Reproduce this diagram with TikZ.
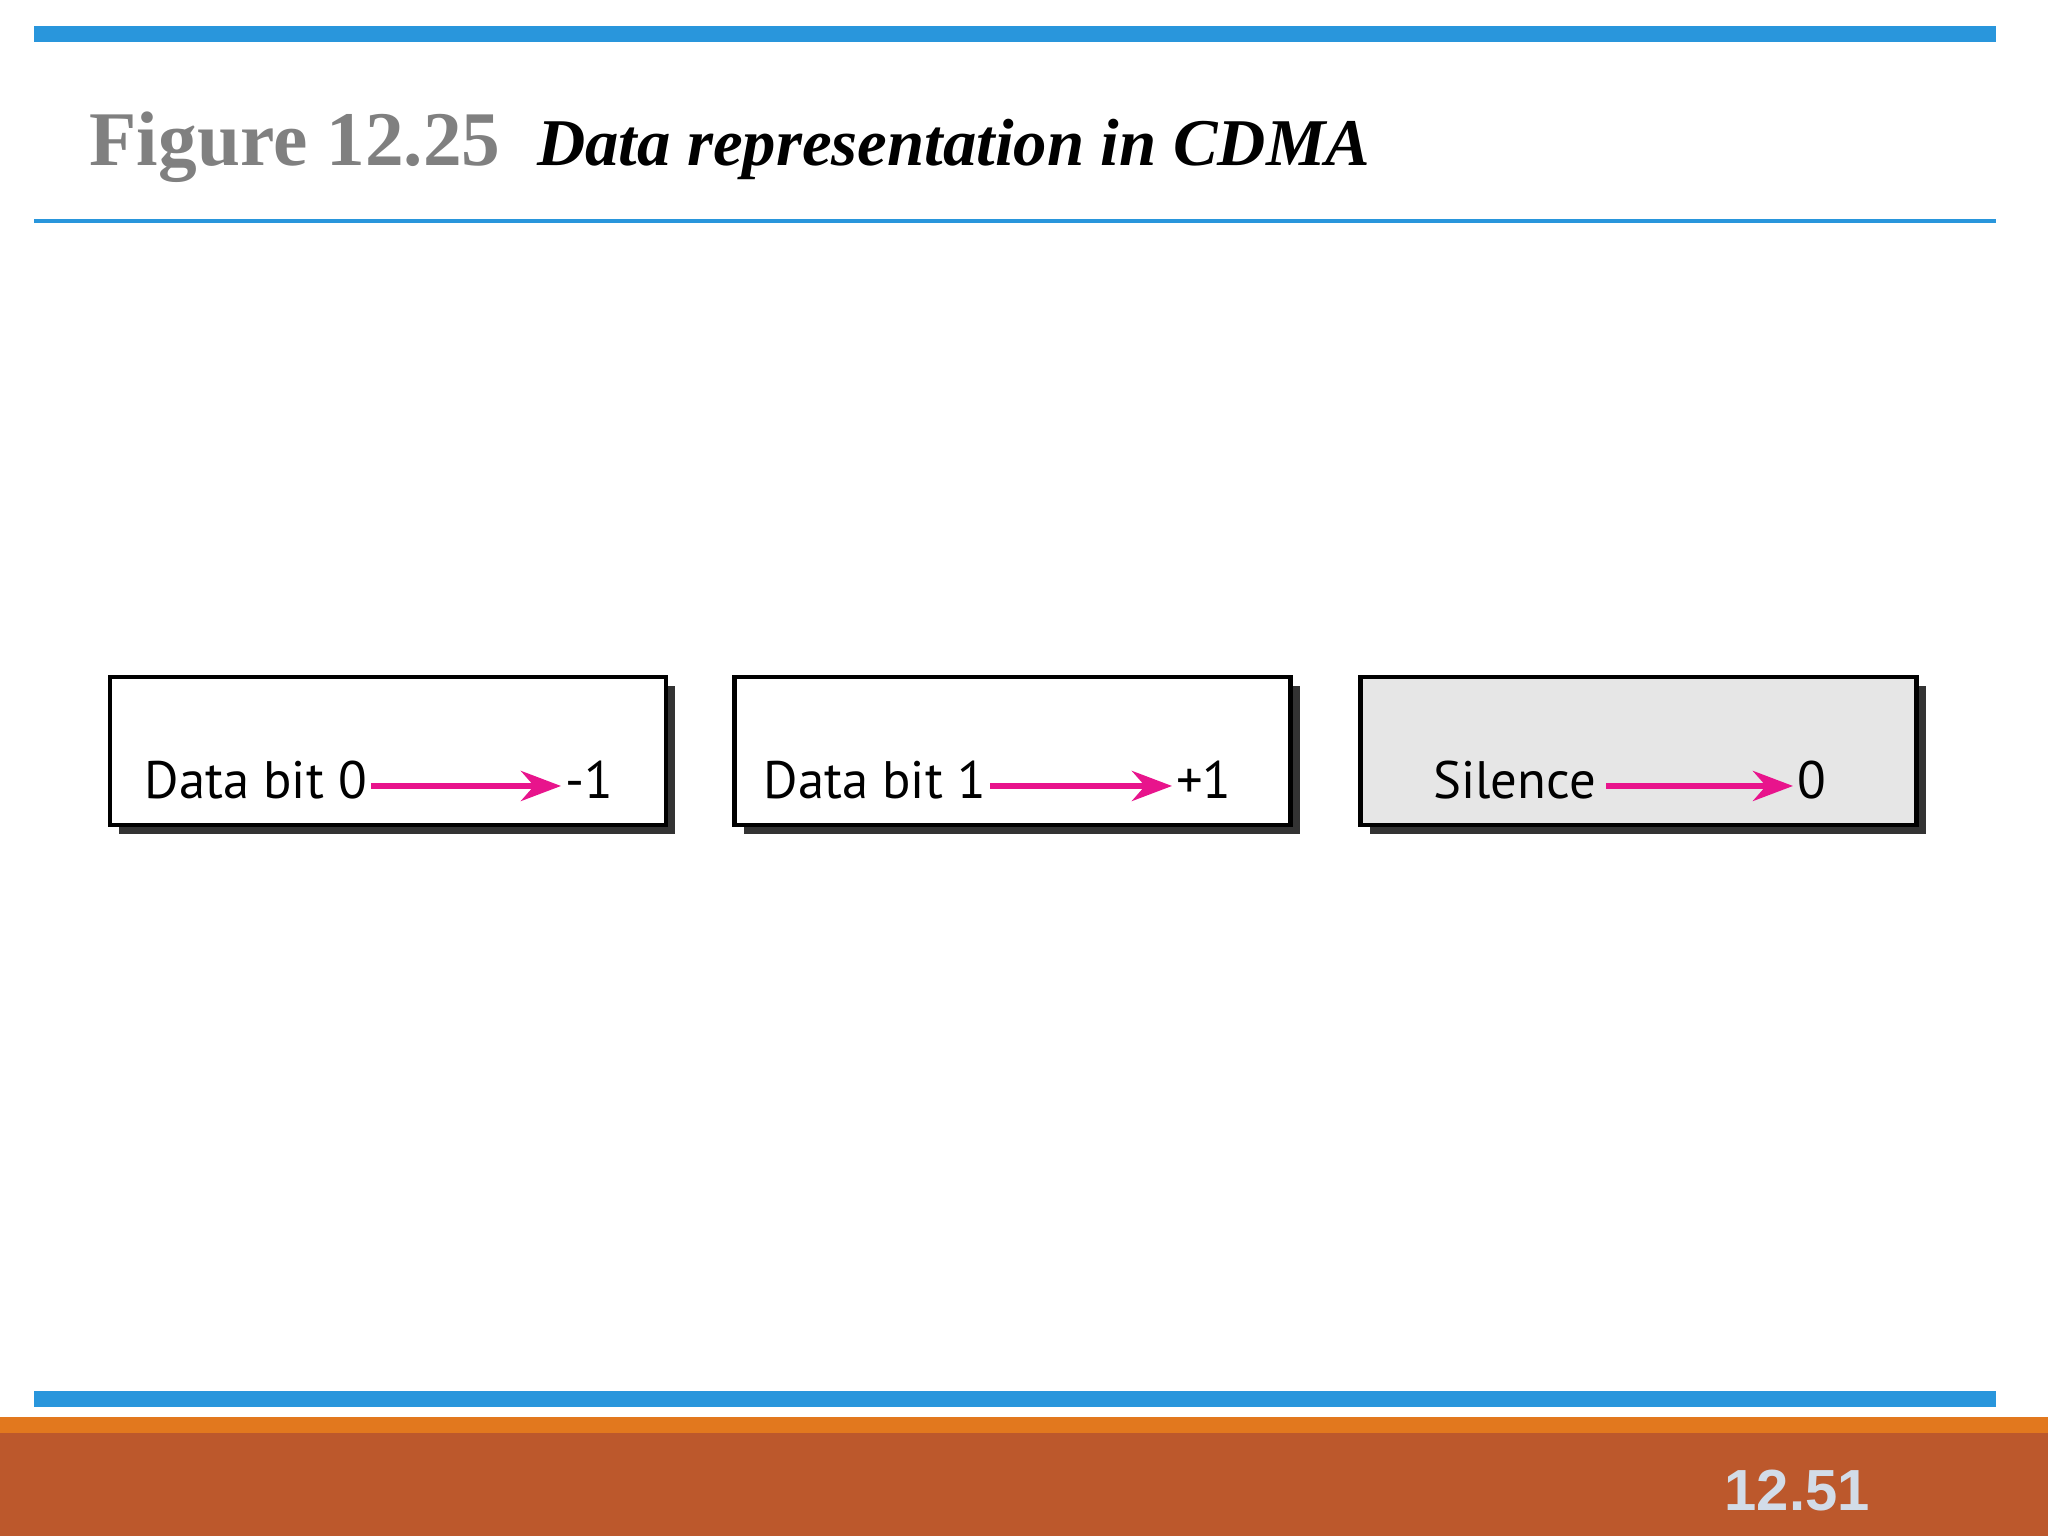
\documentclass[tikz,border=0pt]{standalone}
\usepackage{fontspec}
\setmainfont{Liberation Serif}
\newfontfamily\boxfont{PT Sans}
\newfontfamily\numfont{Liberation Sans}
\usetikzlibrary{positioning}
\usetikzlibrary{arrows.meta}
\definecolor{barblue}{RGB}{41,150,220}
\definecolor{barorange}{RGB}{226,120,30}
\definecolor{barbrown}{RGB}{188,88,44}
\definecolor{figgray}{RGB}{128,128,128}
\definecolor{pagenum}{RGB}{210,220,232}
\definecolor{arrowpink}{RGB}{232,20,140}
\definecolor{silencegray}{RGB}{230,230,230}
\tikzset{
  bitbox/.style={draw=black,line width=1.4pt,minimum width=5.56cm,minimum height=1.48cm,inner sep=0pt},
  boxshadow/.style={fill=black!80,draw=none},
  boxtext/.style={font=\boxfont\fontsize{15}{18}\selectfont,inner sep=1pt},
  maparrow/.style={arrowpink,line width=1.6pt,-{Stealth[length=0.4cm,width=0.3cm]}}
}
\begin{document}
\begin{tikzpicture}
\useasboundingbox (0,0) rectangle (20.48,15.36);
\fill[white] (0,0) rectangle (20.48,15.36);
% title bars
\fill[barblue] (0.34,14.94) rectangle (19.96,15.10);
\fill[barblue] (0.34,13.13) rectangle (19.96,13.17);
\node[anchor=base west,inner sep=0pt,text=figgray,font=\bfseries\fontsize{22}{26}\selectfont] (fig) at (0.89,13.70) {Figure 12.25};
\node[anchor=base west,inner sep=0pt,font=\bfseries\itshape\fontsize{19}{23}\selectfont,right=0.35cm of fig.base east,anchor=base west] (title) {Data representation in CDMA};
% footer
\fill[barblue] (0.34,1.29) rectangle (19.96,1.45);
\fill[barorange] (0,1.03) rectangle (20.48,1.19);
\fill[barbrown] (0,0) rectangle (20.48,1.03);
\node[anchor=base west,inner sep=0pt,text=pagenum,font=\numfont\bfseries\fontsize{16.5}{20}\selectfont] (page) at (17.24,0.25) {12.51};
% boxes
\foreach \x/\fillc in {3.88/white, 10.125/white, 16.385/silencegray}{
  \fill[boxshadow] (\x-2.78+0.09,7.11-0.09) rectangle (\x+2.78+0.09,8.59-0.09);
  \node[bitbox,fill=\fillc] at (\x,7.85) {};
}
% mappings
\node[boxtext,anchor=east] (bit0) at (3.71,7.50) {\strut Data bit 0};
\node[boxtext,anchor=west] (neg1) at (5.61,7.50) {\strut -1};
\draw[maparrow] (bit0.east) -- (neg1.west);
\node[boxtext,anchor=east] (bit1) at (9.90,7.50) {\strut Data bit 1};
\node[boxtext,anchor=west] (pos1) at (11.72,7.50) {\strut +1};
\draw[maparrow] (bit1.east) -- (pos1.west);
\node[boxtext,anchor=east] (silence) at (16.00,7.50) {\strut Silence};
\node[boxtext,anchor=west] (zero) at (17.93,7.50) {\strut 0};
\draw[maparrow] ([xshift=0.06cm]silence.east) -- (zero.west);
\end{tikzpicture}
\end{document}
